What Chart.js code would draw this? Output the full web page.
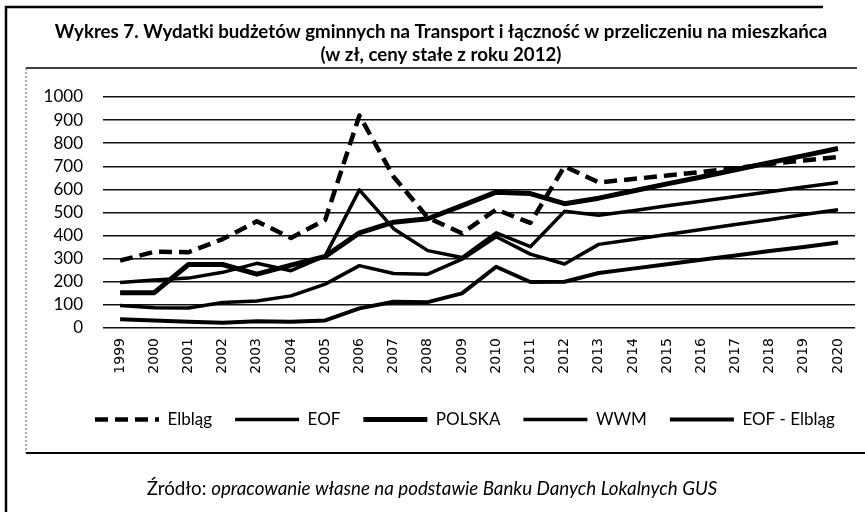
<!DOCTYPE html>
<html>
<head>
<meta charset="utf-8">
<script src="https://cdn.jsdelivr.net/npm/chart.js@4.4.0/dist/chart.umd.min.js"></script>
<style>
html,body{margin:0;padding:0;background:#fff;}
#wrap{width:865px;height:512px;position:relative;}
canvas{display:block;}
</style>
</head>
<body>
<div id="wrap"><canvas id="c" width="865" height="512"></canvas></div>
<script>
// ---- data ----
const years = ['1999','2000','2001','2002','2003','2004','2005','2006','2007','2008','2009','2010','2011','2012','2013','2014','2015','2016','2017','2018','2019','2020'];
const elblag = [292, 330, 328, 385, 462, 390, 468, 920, 655, 478, 410, 513, 455, 700, 630, 645, 660, 675, 692, 710, 725, 740];
const eof = [197, 208, 216, 241, 280, 248, 312, 598, 430, 335, 305, 412, 352, 505, 488, 508, 529, 549, 569, 590, 610, 630];
const polska = [153, 153, 275, 275, 233, 272, 310, 412, 458, 473, 530, 588, 582, 538, 562, 593, 624, 654, 685, 716, 746, 777];
const wwm = [97, 88, 87, 110, 117, 139, 190, 270, 236, 233, 298, 395, 320, 277, 362, 383, 405, 426, 448, 469, 491, 512];
const eofBezElblaga = [38, 33, 27, 23, 29, 27, 33, 85, 114, 112, 150, 265, 199, 200, 238, 257, 276, 295, 314, 333, 351, 370];
const seriesNames = ['Elbląg', 'EOF', 'POLSKA', 'WWM', 'EOF - Elbląg'];
const yTicks = [0, 100, 200, 300, 400, 500, 600, 700, 800, 900, 1000];
const titleLines = ['Wykres 7. Wydatki budżetów gminnych na Transport i łączność w przeliczeniu na mieszkańca', '(w zł, ceny stałe z roku 2012)'];
const sourcePrefix = 'Źródło: ';
const sourceText = 'opracowanie własne na podstawie Banku Danych Lokalnych GUS';

const FAMILY = 'Lato, "Open Sans", sans-serif';
const LEGEND_START_X = 95;

function fitSize(ctx, text, style, targetW) {
  ctx.font = style + ' 20px ' + FAMILY;
  const w = ctx.measureText(text).width;
  return 20 * targetW / w;
}

const framePlugin = {
  id: 'frame',
  beforeDraw(chart) {
    const ctx = chart.ctx;
    ctx.save();
    ctx.fillStyle = '#fff';
    ctx.fillRect(0, 0, chart.width, chart.height);
    ctx.restore();
    // place the legend row so that it starts where the reference legend starts
    const lg = chart.legend;
    if (lg && lg.lineWidths && lg.lineWidths.length) {
      const p = lg.options.labels.padding;
      const w = lg.right - lg.left;
      const left = (2 * LEGEND_START_X - p + lg.lineWidths[0] - w) / 2;
      lg.left = left;
      lg.right = left + w;
    }
  },
  afterDraw(chart) {
    const ctx = chart.ctx;
    ctx.save();
    ctx.strokeStyle = '#000';
    // outer border
    ctx.lineWidth = 2.5;
    ctx.beginPath();
    ctx.moveTo(6, 512); ctx.lineTo(6, 7); ctx.lineTo(823, 7);
    ctx.stroke();
    // rule under title
    ctx.lineWidth = 1.5;
    ctx.beginPath(); ctx.moveTo(26, 68); ctx.lineTo(857, 68); ctx.stroke();
    // inner left thin border
    ctx.lineWidth = 1;
    ctx.strokeStyle = '#555';
    ctx.setLineDash([2, 2]);
    ctx.beginPath(); ctx.moveTo(26, 68); ctx.lineTo(26, 453); ctx.stroke();
    ctx.setLineDash([]);
    // bottom rule
    ctx.strokeStyle = '#000';
    ctx.lineWidth = 2;
    ctx.beginPath(); ctx.moveTo(26, 453); ctx.lineTo(865, 453); ctx.stroke();

    // title
    const ts = fitSize(ctx, titleLines[0], 'bold', 773);
    ctx.fillStyle = '#000';
    ctx.textAlign = 'center';
    ctx.textBaseline = 'middle';
    ctx.font = 'bold ' + ts.toFixed(2) + 'px ' + FAMILY;
    ctx.fillText(titleLines[0], 441, 32);
    ctx.fillText(titleLines[1], 441, 55);

    // footer
    ctx.font = '17px ' + FAMILY;
    const w1 = ctx.measureText(sourcePrefix).width;
    ctx.font = 'italic 17px ' + FAMILY;
    const w2 = ctx.measureText(sourceText).width;
    const fs = 17 * 571 / (w1 + w2);
    ctx.textAlign = 'left';
    ctx.font = fs.toFixed(2) + 'px ' + FAMILY;
    const a = ctx.measureText(sourcePrefix).width;
    ctx.font = 'italic ' + fs.toFixed(2) + 'px ' + FAMILY;
    const b = ctx.measureText(sourceText).width;
    const x0 = 432 - (a + b) / 2;
    ctx.font = fs.toFixed(2) + 'px ' + FAMILY;
    ctx.fillText(sourcePrefix, x0, 489);
    ctx.font = 'italic ' + fs.toFixed(2) + 'px ' + FAMILY;
    ctx.fillText(sourceText, x0 + a, 489);
    ctx.restore();
  }
};

const mk = (label, data, width, dash) => ({
  label, data,
  borderColor: '#000', backgroundColor: '#000',
  borderWidth: width, borderDash: dash || [],
  borderJoinStyle: 'round',
  pointRadius: 0, pointHoverRadius: 0, tension: 0, fill: false
});

new Chart(document.getElementById('c'), {
  type: 'line',
  data: {
    labels: years,
    datasets: [
      mk(seriesNames[0], elblag, 4.5, [13, 7]),
      mk(seriesNames[1], eof, 3.5),
      mk(seriesNames[2], polska, 5),
      mk(seriesNames[3], wwm, 3.5),
      mk(seriesNames[4], eofBezElblaga, 4)
    ]
  },
  plugins: [framePlugin],
  options: {
    responsive: false,
    devicePixelRatio: 1,
    animation: false,
    layout: { padding: { top: 97, left: 20, right: 8, bottom: 74 } },
    plugins: {
      title: { display: false },
      tooltip: { enabled: false },
      legend: {
        position: 'bottom',
        align: 'center',
        labels: {
          usePointStyle: true,
          pointStyle: 'line',
          pointStyleWidth: 64,
          padding: 23,
          color: '#000',
          font: { family: FAMILY, size: 17 },
          generateLabels(chart) {
            const items = Chart.defaults.plugins.legend.labels.generateLabels(chart);
            items.forEach(it => {
              const ds = chart.data.datasets[it.datasetIndex];
              it.lineDash = ds.borderDash;
              it.lineWidth = ds.borderWidth;
              it.strokeStyle = '#000';
              it.pointStyle = 'line';
            });
            return items;
          }
        }
      }
    },
    scales: {
      x: {
        offset: true,
        grid: { display: false, drawTicks: false, offset: false },
        border: { display: false },
        ticks: {
          color: '#000',
          font: { family: '"DejaVu Sans"', size: 14 },
          minRotation: 90, maxRotation: 90,
          autoSkip: false,
          padding: 10
        },
        afterFit(s) { s.height = 60; }
      },
      y: {
        min: 0, max: 1000,
        afterBuildTicks(s) { s.ticks = yTicks.map(v => ({ value: v })); },
        grid: { color: '#111', lineWidth: 1.5, drawTicks: false },
        border: { display: false },
        ticks: {
          color: '#000',
          autoSkip: false,
          font: { family: FAMILY, size: 17 },
          padding: 20,
          callback: v => String(v)
        },
        afterFit(s) { s.width = 83; }
      }
    }
  }
});
</script>
</body>
</html>
